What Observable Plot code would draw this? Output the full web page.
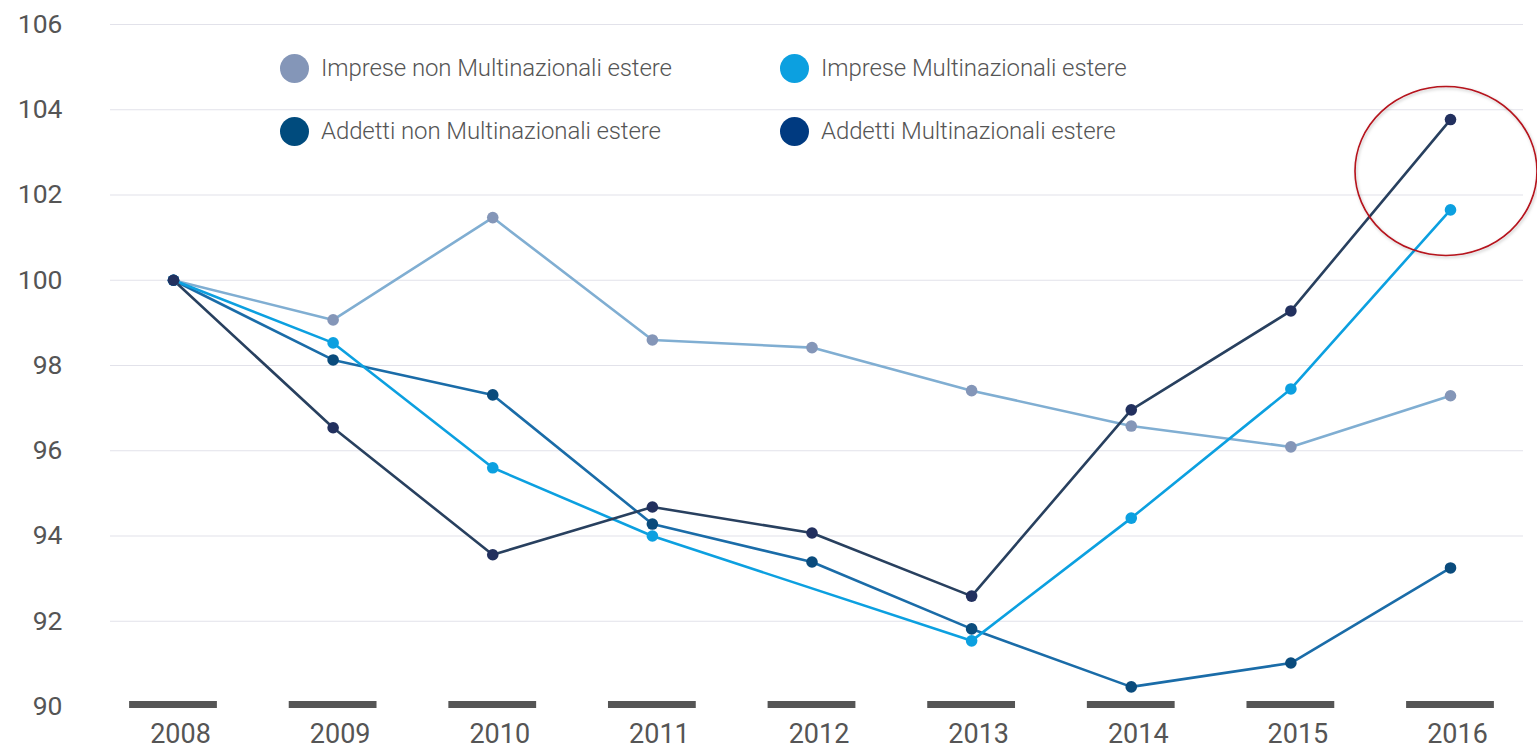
<!DOCTYPE html>
<html>
<head>
<meta charset="utf-8">
<script src="https://cdn.jsdelivr.net/npm/d3@7"></script>
<script src="https://cdn.jsdelivr.net/npm/@observablehq/plot@0.6"></script>
<style>
  html, body { margin: 0; padding: 0; background: #fff; }
  #wrap { position: relative; width: 1537px; height: 747px; font-family: Roboto, "Noto Sans", sans-serif; }
  #legend { position: absolute; left: 0; top: 0; width: 1537px; height: 0; }
  .item { position: absolute; display: flex; align-items: center; height: 30px; }
  .sw { width: 29px; height: 29px; border-radius: 50%; margin-right: 12px; }
  .lab { font-size: 24px; font-weight: 300; color: #555; white-space: nowrap; letter-spacing: -0.1px; }
</style>
</head>
<body>
<div id="wrap">
  <div id="chart"></div>
  <div id="legend"></div>
</div>
<script>
// ---- data ----
const years = [2008, 2009, 2010, 2011, 2012, 2013, 2014, 2015, 2016];
const yTicks = [90, 92, 94, 96, 98, 100, 102, 104, 106];
const impreseNonMulti = [100, 99.07, 101.47, 98.60, 98.42, 97.41, 96.58, 96.09, 97.29];
const impreseMulti    = [100, 98.53, 95.60, 94.00, null, 91.54, 94.42, 97.45, 101.65];
const addettiNonMulti = [100, 98.13, 97.31, 94.28, 93.39, 91.82, 90.46, 91.02, 93.25];
const addettiMulti    = [100, 96.54, 93.56, 94.68, 94.07, 92.59, 96.96, 99.28, 103.77];
const seriesNames = [
  "Imprese non Multinazionali estere",
  "Imprese Multinazionali estere",
  "Addetti non Multinazionali estere",
  "Addetti Multinazionali estere"
];
const highlightYear = 2016;
const highlightValue = 102.55;

// ---- styles ----
const legendColors = ["#8496b8", "#0ca0e0", "#004b7d", "#003a80"];
const lineColors   = ["#80aed2", "#0ca0e0", "#1a6ca8", "#28405f"];
const dotColors    = ["#8496b8", "#0ca0e0", "#0a4b7c", "#22305e"];

const allValues = [impreseNonMulti, impreseMulti, addettiNonMulti, addettiMulti];
const rows = [];
allValues.forEach((vals, si) => {
  vals.forEach((v, i) => { if (v != null) rows.push({series: seriesNames[si], si, year: years[i], value: v}); });
});

const drawOrder = [0, 2, 1, 3];
const marks = [
  Plot.gridY(yTicks.filter(t => t > 90), {stroke: "#e2e2ea", strokeOpacity: 1, strokeWidth: 1.2}),
  Plot.ruleY(years, {y: () => 90, x1: d => d - 0.275, x2: d => d + 0.275, stroke: "#555", strokeWidth: 7, dy: -2}),
  Plot.axisY({ticks: yTicks, tickSize: 0, tickPadding: 48, fontSize: 26.5, fill: "#555", label: null}),
  Plot.axisX({ticks: years, tickFormat: d => String(d), tickSize: 0, tickPadding: 17, fontSize: 27, fill: "#555", dx: 7, label: null})
];
for (const si of drawOrder) {
  const d = rows.filter(r => r.si === si);
  marks.push(Plot.line(d, {x: "year", y: "value", stroke: lineColors[si], strokeWidth: 2.6}));
}
for (const si of drawOrder) {
  const d = rows.filter(r => r.si === si);
  marks.push(Plot.dot(d, {x: "year", y: "value", fill: dotColors[si], r: 5.8, stroke: "none"}));
}

const plot = Plot.plot({
  width: 1537,
  height: 747,
  marginLeft: 110,
  marginRight: 14,
  marginTop: 24,
  marginBottom: 41,
  insetLeft: 63,
  insetRight: 73,
  x: {domain: [2008, 2016]},
  y: {domain: [90, 106]},
  style: {fontFamily: "Roboto, 'Noto Sans', sans-serif", background: "#fff", overflow: "visible"},
  marks
});
document.getElementById("chart").appendChild(plot);

// annotation ellipse
const xs = plot.scale("x"), ys = plot.scale("y");
const svg = d3.select(plot);
const defs = svg.append("defs");
const f = defs.append("filter").attr("id", "shadow").attr("x", "-10%").attr("y", "-10%").attr("width", "120%").attr("height", "120%");
f.append("feDropShadow").attr("dx", 1).attr("dy", 1.5).attr("stdDeviation", 1.5).attr("flood-color", "#000").attr("flood-opacity", 0.25);
svg.append("ellipse")
  .attr("cx", xs.apply(highlightYear) - 4)
  .attr("cy", ys.apply(highlightValue))
  .attr("rx", 91)
  .attr("ry", 84.5)
  .attr("fill", "none")
  .attr("stroke", "#b5121b")
  .attr("stroke-width", 1.6)
  .attr("filter", "url(#shadow)");

// legend
const legendPos = [[280, 53], [780, 53], [280, 116], [780, 116]];
const legend = document.getElementById("legend");
seriesNames.forEach((name, i) => {
  const it = document.createElement("div");
  it.className = "item";
  it.style.left = legendPos[i][0] + "px";
  it.style.top = legendPos[i][1] + "px";
  it.innerHTML = `<div class="sw" style="background:${legendColors[i]}"></div><div class="lab">${name}</div>`;
  legend.appendChild(it);
});
</script>
</body>
</html>
